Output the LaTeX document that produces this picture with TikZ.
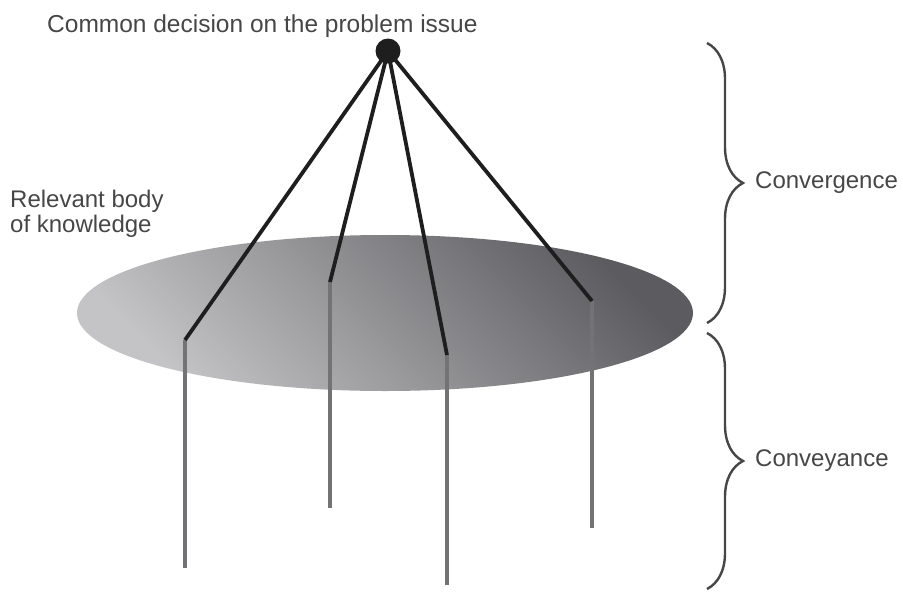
\documentclass[tikz,border=0pt]{standalone}
\usepackage{fontspec}
\setmainfont{Liberation Sans}
\usetikzlibrary{decorations.pathreplacing,calc}
\definecolor{shlight}{RGB}{196,196,198}
\definecolor{shdark}{RGB}{92,92,96}
\definecolor{upline}{RGB}{30,30,30}
\definecolor{downline}{RGB}{115,115,118}
\definecolor{txt}{RGB}{70,70,70}
\begin{document}
\begin{tikzpicture}[x=1pt,y=-1pt,
  lbl/.style={font=\fontsize{24}{25}\selectfont, text=txt, inner sep=0pt, align=left},
  upper/.style={draw=upline, line width=3.8pt},
  lower/.style={draw=downline, line width=3.4pt},
  bracestyle/.style={draw=txt, line width=2.4pt, decorate, decoration={brace, amplitude=36pt, aspect=0.5}}]
\useasboundingbox (0,0) rectangle (903,592);
% body of knowledge
\shade[bottom color=shlight, top color=shdark, shading angle=-45] (385,313) ellipse [x radius=308, y radius=78];
% points
\coordinate (k1) at (185,340);
\coordinate (k2) at (330,282);
\coordinate (k3) at (447,355);
\coordinate (k4) at (592,301);
\coordinate (b1) at (185,568);
\coordinate (b2) at (330,508);
\coordinate (b3) at (447,585);
\coordinate (b4) at (592,528);
\coordinate (apex) at (388,51);
% lower (conveyance) lines
\draw[lower] (k1) -- (b1);
\draw[lower] (k2) -- (b2);
\draw[lower] (k3) -- (b3);
\draw[lower] (k4) -- (b4);
% upper (convergence) lines
\draw[upper] (apex) -- (k1);
\draw[upper] (apex) -- (k2);
\draw[upper] (apex) -- (k3);
\draw[upper] (apex) -- (k4);
\node[circle, fill=upline, inner sep=0pt, minimum size=25pt] (dot) at (apex) {};
% labels
\node[lbl, font=\fontsize{24.5}{25}\selectfont, anchor=base west] (decision) at (47,32) {Common decision on the problem issue};
\node[lbl, anchor=base west] (body) at (10,232) {Relevant body\\of knowledge};
% braces
\coordinate (c1t) at (707,43);
\coordinate (c1b) at (707,323);
\coordinate (c2t) at (707,333);
\coordinate (c2b) at (707,589);
\draw[bracestyle] (c1t) -- (c1b);
\draw[bracestyle] (c2t) -- (c2b);
\node[lbl, anchor=west] (convergence) at ($(c1t)!0.5!(c1b)+(48,0)$) {Convergence};
\node[lbl, anchor=west] (conveyance) at ($(c2t)!0.5!(c2b)+(48,0)$) {Conveyance};
\end{tikzpicture}
\end{document}
